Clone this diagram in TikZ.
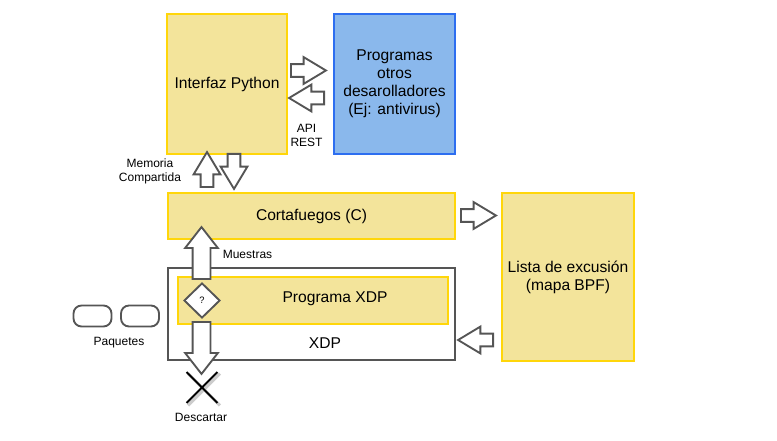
\documentclass[tikz,border=0pt]{standalone}
\usepackage{fontspec}
\setmainfont{Liberation Sans}
\usepackage{tikz}
\usetikzlibrary{positioning, shapes.geometric, shapes.arrows, shapes.misc}
\definecolor{boxyellow}{RGB}{243, 228, 155}
\definecolor{boxgold}{RGB}{255, 214, 10}
\definecolor{progblue}{RGB}{138, 184, 236}
\definecolor{progborder}{RGB}{45, 110, 240}
\definecolor{arrowgray}{RGB}{85, 85, 85}

\begin{document}
\begin{tikzpicture}[x = 0.75pt, y = -0.75pt,
  yellowbox/.style={draw = boxgold, fill = boxyellow, line width = 0.9pt, align = center, inner sep = 0pt},
  bluebox/.style={draw = progborder, fill = progblue, line width = 0.9pt, align = center, inner sep = 0pt},
  bigtext/.style={font = \fontsize{11.7}{13.4}\selectfont},
  smalltext/.style={font = \fontsize{9}{10}\selectfont, align = center},
  blockarrow/.style={single arrow, anchor = tail, draw = arrowgray, fill = white, line width = 1.4pt,
    minimum height = 26.25pt, inner sep = 4.1pt, single arrow head extend = 5.25pt,
    single arrow tip angle = 62},
  fatarrow/.style={blockarrow, minimum height = 39pt, inner sep = 6pt,
    single arrow head extend = 5.6pt, single arrow tip angle = 76},
  pill/.style={draw = arrowgray, line width = 1.4pt, rounded corners = 6pt,
    minimum width = 28.5pt, minimum height = 15.75pt}]
  \useasboundingbox (0,0) rectangle (777,441);

  % boxes
  \node [yellowbox, bigtext, minimum width = 90pt, minimum height = 105pt] (python) at (227,84) {Interfaz Python};
  \node [bluebox, bigtext, minimum width = 90.75pt, minimum height = 105pt] (others) at (394.5,84)
    {Programas\\otros\\desarolladores\\(Ej: antivirus)};
  \node [yellowbox, bigtext, minimum width = 215.25pt, minimum height = 34.5pt] (firewall) at (311.5,216) {Cortafuegos (C)};
  \node [yellowbox, bigtext, minimum width = 99pt, minimum height = 126pt] (list) at (568,277)
    {Lista de excusión\\(mapa BPF)};
  \node [draw = arrowgray, fill = white, line width = 1.4pt, minimum width = 215.25pt, minimum height = 69pt] (xdp) at (311.5,314) {};
  \node [bigtext] (xdplabel) at (325,343) {XDP};
  \node [yellowbox, minimum width = 202.5pt, minimum height = 35.25pt] (xdpprog) at (313,300.5) {};
  \node [bigtext] (xdpproglabel) at (335,299) {Programa XDP};

  % arrows (placed by their tails)
  \node [blockarrow] (toothers) at (290,70.5) {};
  \node [blockarrow, rotate = 180] (fromothers) at (325,98) {};
  \node [blockarrow, rotate = 90] (toshm) at (207,188) {};
  \node [blockarrow, rotate = -90] (fromshm) at (234,153) {};
  \node [blockarrow] (tolist) at (460,215.5) {};
  \node [blockarrow, rotate = 180] (fromlist) at (494,340) {};
  \node [fatarrow, rotate = 90] (samples) at (201.5,280) {};
  \node [fatarrow, rotate = -90] (dropping) at (201.5,321) {};

  % decision and drop
  \node [diamond, draw = arrowgray, fill = white, line width = 1.4pt, aspect = 1, inner sep = 0pt,
    minimum width = 27pt, minimum height = 26.25pt, font = \fontsize{7}{8}\selectfont] (check) at (202,300.5) {?};
  \node [cross out, draw = black!20, line width = 2.2pt, minimum size = 21.75pt] (dropshadow) at (204,389.5) {};
  \node [cross out, draw = black, line width = 1.4pt, minimum size = 21.75pt] (drop) at (202,387.5) {};

  % packets
  \node [pill] (pkta) at (92.5,316) {};
  \node [pill] (pktb) at (140,316) {};

  % labels
  \node [smalltext] (api) at (306.5,135.5) {API\\REST};
  \node [smalltext] (shm) at (150,171.5) {Memoria\\Compartida};
  \node [smalltext] (sampleslabel) at (247.5,254.5) {Muestras};
  \node [smalltext] (packets) at (119,342.5) {Paquetes};
  \node [smalltext] (droplabel) at (201,417.5) {Descartar};
\end{tikzpicture}
\end{document}
